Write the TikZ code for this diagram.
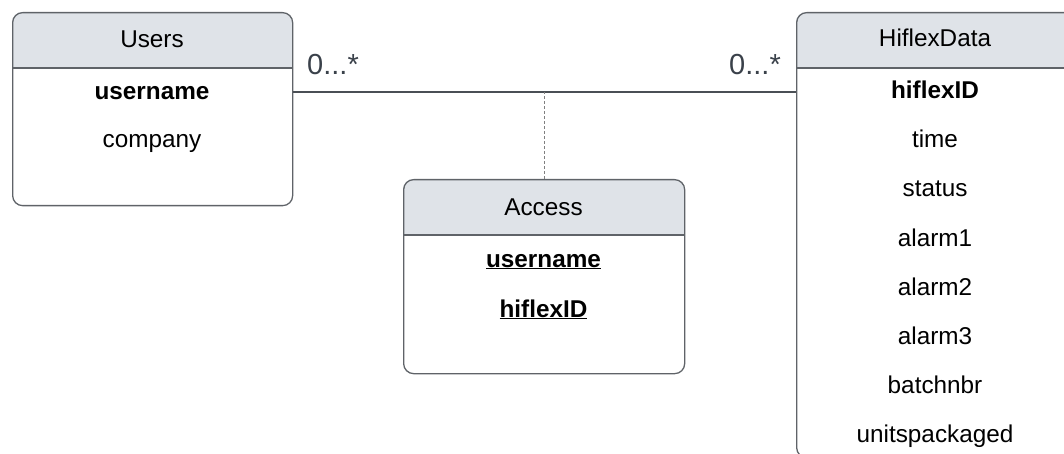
\documentclass[tikz,border=0pt]{standalone}
\usepackage{fontspec}
\setmainfont{Liberation Sans}
\definecolor{hdr}{HTML}{DFE3E8}
\definecolor{edge}{HTML}{5F6368}
\definecolor{lbl}{HTML}{3A414A}
\definecolor{conn}{HTML}{4A4F55}
\begin{document}
\begin{tikzpicture}[x=1pt,y=-1pt,
  entity/.style={draw=edge,line width=1.3pt,rounded corners=10pt,inner sep=0pt,anchor=north west},
  divider/.style={draw=edge,line width=1.3pt},
  txt/.style={font=\fontsize{24.3}{28}\selectfont,anchor=base,inner sep=0pt,text=black},
  mult/.style={font=\fontsize{29}{34}\selectfont,inner sep=0pt,text=lbl},
  link/.style={draw=conn,line width=1.3pt},
  dotlink/.style={draw=gray,line width=0.8pt,dash pattern=on 3pt off 2pt}]
\clip (0,0) rectangle (1064,454);
\useasboundingbox (0,0) rectangle (1064,454);
% header fills
\begin{scope}
\clip[rounded corners=10pt] (12,12) rectangle (292,205);
\fill[hdr] (12,12) rectangle (292,68);
\end{scope}
\begin{scope}
\clip[rounded corners=10pt] (403,179) rectangle (684,373);
\fill[hdr] (403,179) rectangle (684,235);
\end{scope}
\begin{scope}
\clip[rounded corners=10pt] (796,12) rectangle (1076,457);
\fill[hdr] (796,12) rectangle (1076,68);
\end{scope}
% boxes
\node[entity,minimum width=280pt,minimum height=193pt] (users) at (12,12) {};
\node[entity,minimum width=281pt,minimum height=194pt] (access) at (403,179) {};
\node[entity,minimum width=280pt,minimum height=445pt] (hiflex) at (796,12) {};
\draw[divider] (users.west |- 0,68) -- (users.east |- 0,68);
\draw[divider] (access.west |- 0,235) -- (access.east |- 0,235);
\draw[divider] (hiflex.west |- 0,68) -- (hiflex.east |- 0,68);
% Users texts
\node[txt] (usersT) at (152,48) {Users};
\node[txt] (uname) at (152,100) {\bfseries username};
\node[txt] (ucomp) at (152,148) {company};
% Access texts
\node[txt] (accT) at (543.5,215) {Access};
\node[txt] (aname) at (543.5,267) {\underline{\bfseries username}};
\node[txt] (aid) at (543.5,317) {\underline{\bfseries hiflexID}};
% HiflexData texts
\node[txt] (hT) at (935,47) {HiflexData};
\node[txt] (hid) at (935,99) {\bfseries hiflexID};
\node[txt] (htime) at (935,148) {time};
\node[txt] (hstatus) at (935,197) {status};
\node[txt] (ha1) at (935,246) {alarm1};
\node[txt] (ha2) at (935,295) {alarm2};
\node[txt] (ha3) at (935,344) {alarm3};
\node[txt] (hbatch) at (935,393) {batchnbr};
\node[txt] (hunits) at (935,442) {unitspackaged};
% connectors
\coordinate (lineY) at (0,92);
\coordinate (mid) at (access.north |- lineY);
\draw[link] (users.east |- lineY) -- (hiflex.west |- lineY);
\draw[dotlink] (access.north) -- (mid);
\node[mult,anchor=base west] (m1) at (307,75) {0...*};
\node[mult,anchor=base east] (m2) at (781,75) {0...*};
\end{tikzpicture}
\end{document}
